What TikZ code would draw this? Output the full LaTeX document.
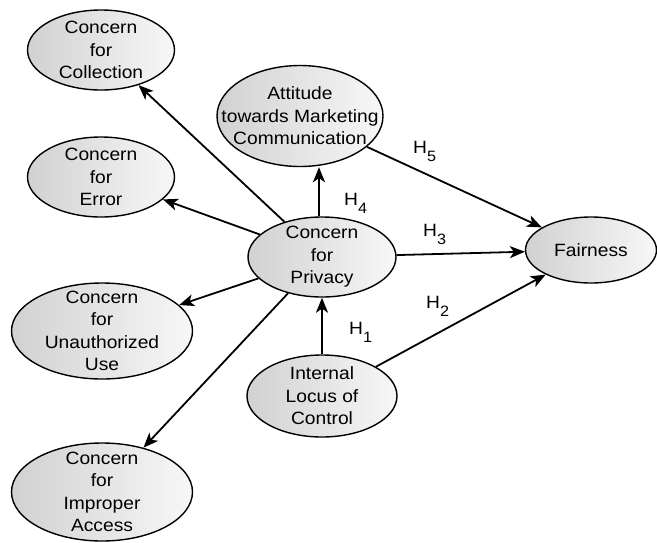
\documentclass[tikz,border=0pt]{standalone}
\usepackage{fontspec}
\setmainfont{Liberation Sans}[FakeStretch=1.08]
\usetikzlibrary{shapes.geometric,arrows.meta}
\begin{document}
\begin{tikzpicture}[x=1pt,y=-1pt,
  ell/.style={ellipse,draw=black,line width=1.4pt,left color=black!18,right color=black!3,inner sep=0pt},
  txt/.style={align=center,font=\fontsize{17.8}{22.5}\selectfont,inner sep=0pt},
  arr/.style={line width=1.8pt,-{Stealth[length=15pt,width=12pt,inset=4pt]}},
  hl/.style={anchor=base west,inner sep=0pt,font=\fontsize{17.8}{20}\selectfont}]
\useasboundingbox (0,0) rectangle (657,542);
\node[ell,minimum width=147pt,minimum height=80pt,label={[txt]center:{Concern\\for\\Collection}}] (col) at (101,50) {};
\node[ell,minimum width=147pt,minimum height=80pt,label={[txt]center:{Concern\\for\\Error}}] (err) at (101,177) {};
\node[ell,minimum width=166pt,minimum height=101pt,label={[txt]center:{Attitude\\towards Marketing\\Communication}}] (att) at (300,116) {};
\node[ell,minimum width=148pt,minimum height=80pt,label={[txt]center:{Concern\\for\\Privacy}}] (pv) at (322,257) {};
\node[ell,minimum width=131pt,minimum height=66pt,label={[txt]center:{Fairness}}] (fair) at (591,250) {};
\node[ell,minimum width=181pt,minimum height=96pt,label={[txt]center:{Concern\\for\\Unauthorized\\Use}}] (una) at (102,331) {};
\node[ell,minimum width=150pt,minimum height=82pt,label={[txt]center:{Internal\\Locus of\\Control}}] (loc) at (322,396) {};
\node[ell,minimum width=181pt,minimum height=98pt,label={[txt]center:{Concern\\for\\Improper\\Access}}] (imp) at (102,492) {};
\draw[arr] (pv) -- (col);
\draw[arr] (pv) -- (err);
\draw[arr] (pv) -- (una);
\draw[arr] (pv) -- (imp);
\draw[arr] ([xshift=-3pt]pv.north) -- ([xshift=-3pt]pv.north |- att.south);
\draw[arr] (pv) -- (fair);
\draw[arr] (att) -- (fair);
\draw[arr] (loc) -- (pv);
\draw[arr] (loc) -- (fair);
\node[hl] (h5) at (413,153) {H\raisebox{-8pt}{\fontsize{15}{15}\selectfont 5}};
\node[hl] (h4) at (344,205) {H\raisebox{-8pt}{\fontsize{15}{15}\selectfont 4}};
\node[hl] (h3) at (423,236) {H\raisebox{-8pt}{\fontsize{15}{15}\selectfont 3}};
\node[hl] (h2) at (426,308) {H\raisebox{-8pt}{\fontsize{15}{15}\selectfont 2}};
\node[hl] (h1) at (349,334) {H\raisebox{-8pt}{\fontsize{15}{15}\selectfont 1}};
\end{tikzpicture}
\end{document}
